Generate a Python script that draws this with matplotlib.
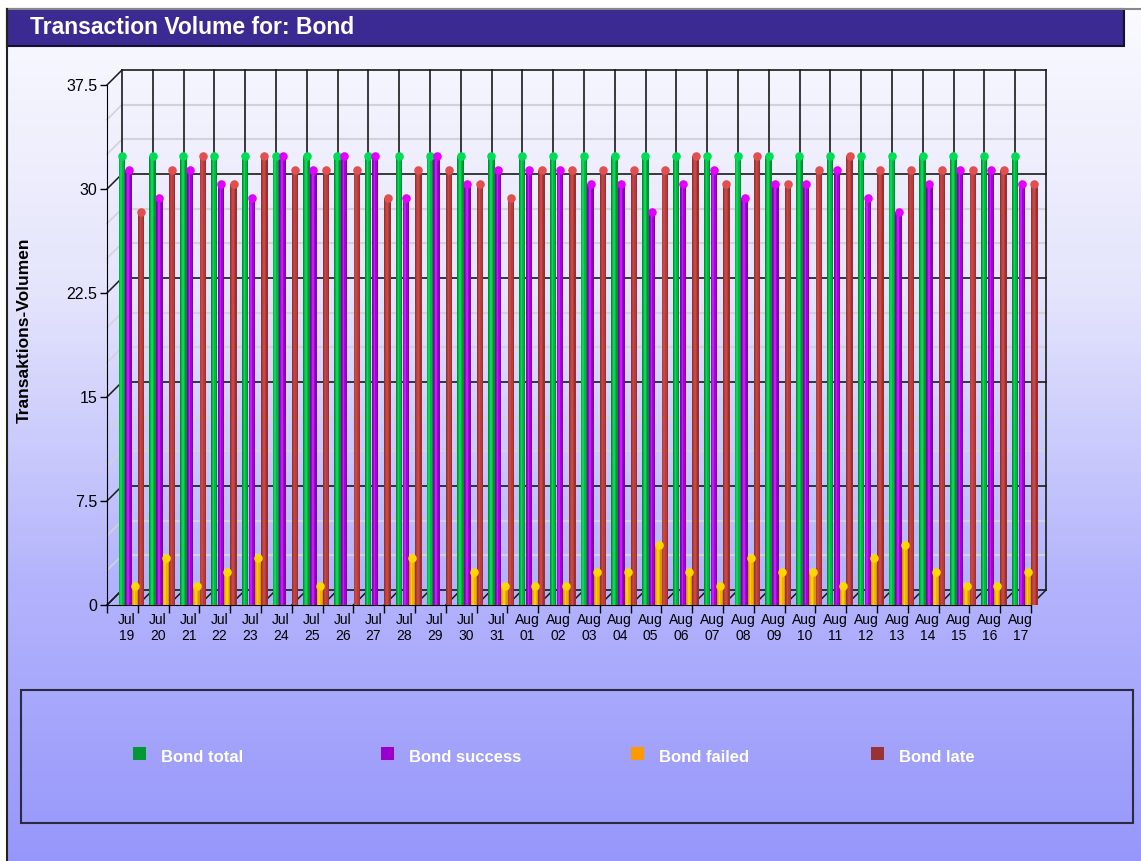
import matplotlib
matplotlib.use("Agg")
import matplotlib.pyplot as plt
import numpy as np
from matplotlib.patches import Rectangle
from matplotlib.colors import LinearSegmentedColormap

plt.rcParams['font.family'] = ['Liberation Sans', 'DejaVu Sans']

# Daily transaction counts, Jul 19 - Aug 17
months = ["Jul"] * 13 + ["Aug"] * 17
days = ["19", "20", "21", "22", "23", "24", "25", "26", "27", "28", "29", "30", "31",
        "01", "02", "03", "04", "05", "06", "07", "08", "09", "10", "11", "12", "13",
        "14", "15", "16", "17"]
total = [32] * 30
success = [31, 29, 31, 30, 29, 32, 31, 32, 32, 29, 32, 30, 31, 31, 31,
           30, 30, 28, 30, 31, 29, 30, 30, 31, 29, 28, 30, 31, 31, 30]
failed = [1, 3, 1, 2, 3, 0, 1, 0, 0, 3, 0, 2, 1, 1, 1,
          2, 2, 4, 2, 1, 3, 2, 2, 1, 3, 4, 2, 1, 1, 2]
late = [28, 31, 32, 30, 32, 31, 31, 31, 29, 31, 31, 30, 29, 31, 31,
        31, 31, 31, 32, 30, 32, 30, 31, 32, 31, 31, 31, 31, 31, 30]

# name, values, legend colour, (edge, body, highlight), cap colour
series = [
    ("Bond total", total, "#009933", ["#009030", "#00b842", "#10d458"], "#00dd55"),
    ("Bond success", success, "#9900cc", ["#8400b0", "#a800d8", "#c020f4"], "#e000ff"),
    ("Bond failed", failed, "#ff9900", ["#d89800", "#f0b400", "#ffcc10"], "#ffd700"),
    ("Bond late", late, "#993333", ["#983030", "#b83c3c", "#c84848"], "#e05050"),
]
offsets = [-0.02, 0.20, 0.41, 0.61]

W, H = 1141, 861
fig = plt.figure(figsize=(W / 100, H / 100), dpi=100)
fig.patch.set_facecolor("white")


def fx(x):
    return x / W


def fy(y):
    return 1 - y / H


# background gradient
bg = fig.add_axes([fx(7), 0, 1 - fx(7), fy(9)])
bg.set_axis_off()
grad = LinearSegmentedColormap.from_list("bg", ["#fafaff", "#e4e4fc", "#b4b4fd", "#9797fb"])
bg.imshow(np.linspace(0, 1, 256).reshape(-1, 1), aspect="auto", cmap=grad,
          extent=[0, 1, 0, 1], origin="upper")
bg.set_xlim(0, 1)
bg.set_ylim(0, 1)

# outer frame lines
fig.add_artist(plt.Line2D([fx(7), 1], [fy(9), fy(9)], color="#888888", lw=1.5))
fig.add_artist(plt.Line2D([fx(7), fx(7)], [fy(9), 0], color="#222222", lw=1.5))

# title bar
fig.add_artist(Rectangle((fx(7), fy(46)), fx(1124) - fx(7), fy(9) - fy(46),
                         transform=fig.transFigure, facecolor="#3a2a92",
                         edgecolor="#151030", lw=1.5))
fig.text(fx(30), fy(28), "Transaction Volume for: Bond", color="white",
         fontsize=16.5, fontweight="bold", va="center", ha="left")

# main plot area (front plane)
ax = fig.add_axes([fx(107), fy(605), fx(1031) - fx(107), fy(85) - fy(605)])
ax.patch.set_visible(False)
n = len(days)
ax.set_xlim(-0.5, n - 0.5)
ax.set_ylim(0, 37.5)
for s in ["top", "right"]:
    ax.spines[s].set_visible(False)
ax.spines["left"].set_color("black")
ax.spines["bottom"].set_color("black")

# depth of the pseudo-3D box in data units (15 px back and up)
p0 = ax.transData.transform((0, 0))
p1 = ax.transData.transform((1, 1))
DX = 15 / (p1[0] - p0[0])
DY = 15 / (p1[1] - p0[1])
lift = 5 / (p1[1] - p0[1])

x0, x1 = -0.5, n - 0.5
major = np.arange(0, 37.6, 7.5)
minor = [v for v in np.arange(0, 37.6, 2.5) if v % 7.5 != 0]
for y in minor:
    ax.plot([x0 + DX, x1 + DX], [y + DY, y + DY], color="#d2d2d8", lw=1.5,
            zorder=1, clip_on=False)
    ax.plot([x0, x0 + DX], [y, y + DY], color="#d2d2d8", lw=1.2, zorder=1, clip_on=False)
for y in major:
    ax.plot([x0 + DX, x1 + DX], [y + DY, y + DY], color="#1a1a1a", lw=1.2,
            zorder=1.5, clip_on=False)
    ax.plot([x0, x0 + DX], [y, y + DY], color="#1a1a1a", lw=1.1, zorder=1.5, clip_on=False)
for b in np.arange(n + 1) - 0.5:
    ax.plot([b + DX, b + DX], [DY, 37.5 + DY], color="#1a1a1a", lw=1.2,
            zorder=1.5, clip_on=False)
    ax.plot([b, b + DX], [0, DY], color="#1a1a1a", lw=1.1, zorder=1.5, clip_on=False)

# cylinder bars
x = np.arange(n)
w = 0.205
for (name, vals, key, shades, cap), off in zip(series, offsets):
    v = np.array(vals, dtype=float)
    m = v > 0
    xs = x[m] + off
    h = v[m] + lift
    ax.bar(xs, h, width=w, color=shades[0], zorder=3, clip_on=False, lw=0)
    ax.bar(xs - w * 0.04, h, width=w * 0.66, color=shades[1], zorder=3.1, clip_on=False, lw=0)
    ax.bar(xs - w * 0.1, h, width=w * 0.25, color=shades[2], zorder=3.2, clip_on=False, lw=0)
    ax.scatter(xs, h, s=38, marker="o", color=cap, zorder=4, clip_on=False, lw=0)

# axes ticks
ax.set_yticks(major, labels=["0", "7.5", "15", "22.5", "30", "37.5"])
ax.tick_params(axis="y", length=5, width=1, pad=2, labelsize=11.5, colors="black")
ax.set_xticks(np.arange(n + 1) - 0.5, labels=[])
ax.set_xticks(x + 0.15, minor=True, labels=[f"{mo}\n{d}" for mo, d in zip(months, days)])
ax.tick_params(axis="x", which="major", length=6, width=1, direction="out")
ax.tick_params(axis="x", which="minor", length=0, pad=6, labelsize=10)
for t in ax.get_xticklabels(minor=True):
    t.set_linespacing(1.15)

fig.text(fx(24), fy(330), "Transaktions-Volumen", rotation=90, fontsize=12.5,
         fontweight="bold", ha="center", va="center")

# legend box
fig.add_artist(Rectangle((fx(21), fy(823)), fx(1133) - fx(21), fy(690) - fy(823),
                         transform=fig.transFigure, facecolor="none",
                         edgecolor="#2a2a40", lw=1.5))
leg_x = [133, 381, 631, 871]
for (name, vals, key, shades, cap), lx in zip(series, leg_x):
    fig.add_artist(Rectangle((fx(lx), fy(760)), fx(13), 13 / H,
                             transform=fig.transFigure, facecolor=key, edgecolor="none"))
    fig.text(fx(lx + 28), fy(757), name, color="white", fontsize=12,
             fontweight="bold", ha="left", va="center")

fig.savefig("out.png", dpi=100)
